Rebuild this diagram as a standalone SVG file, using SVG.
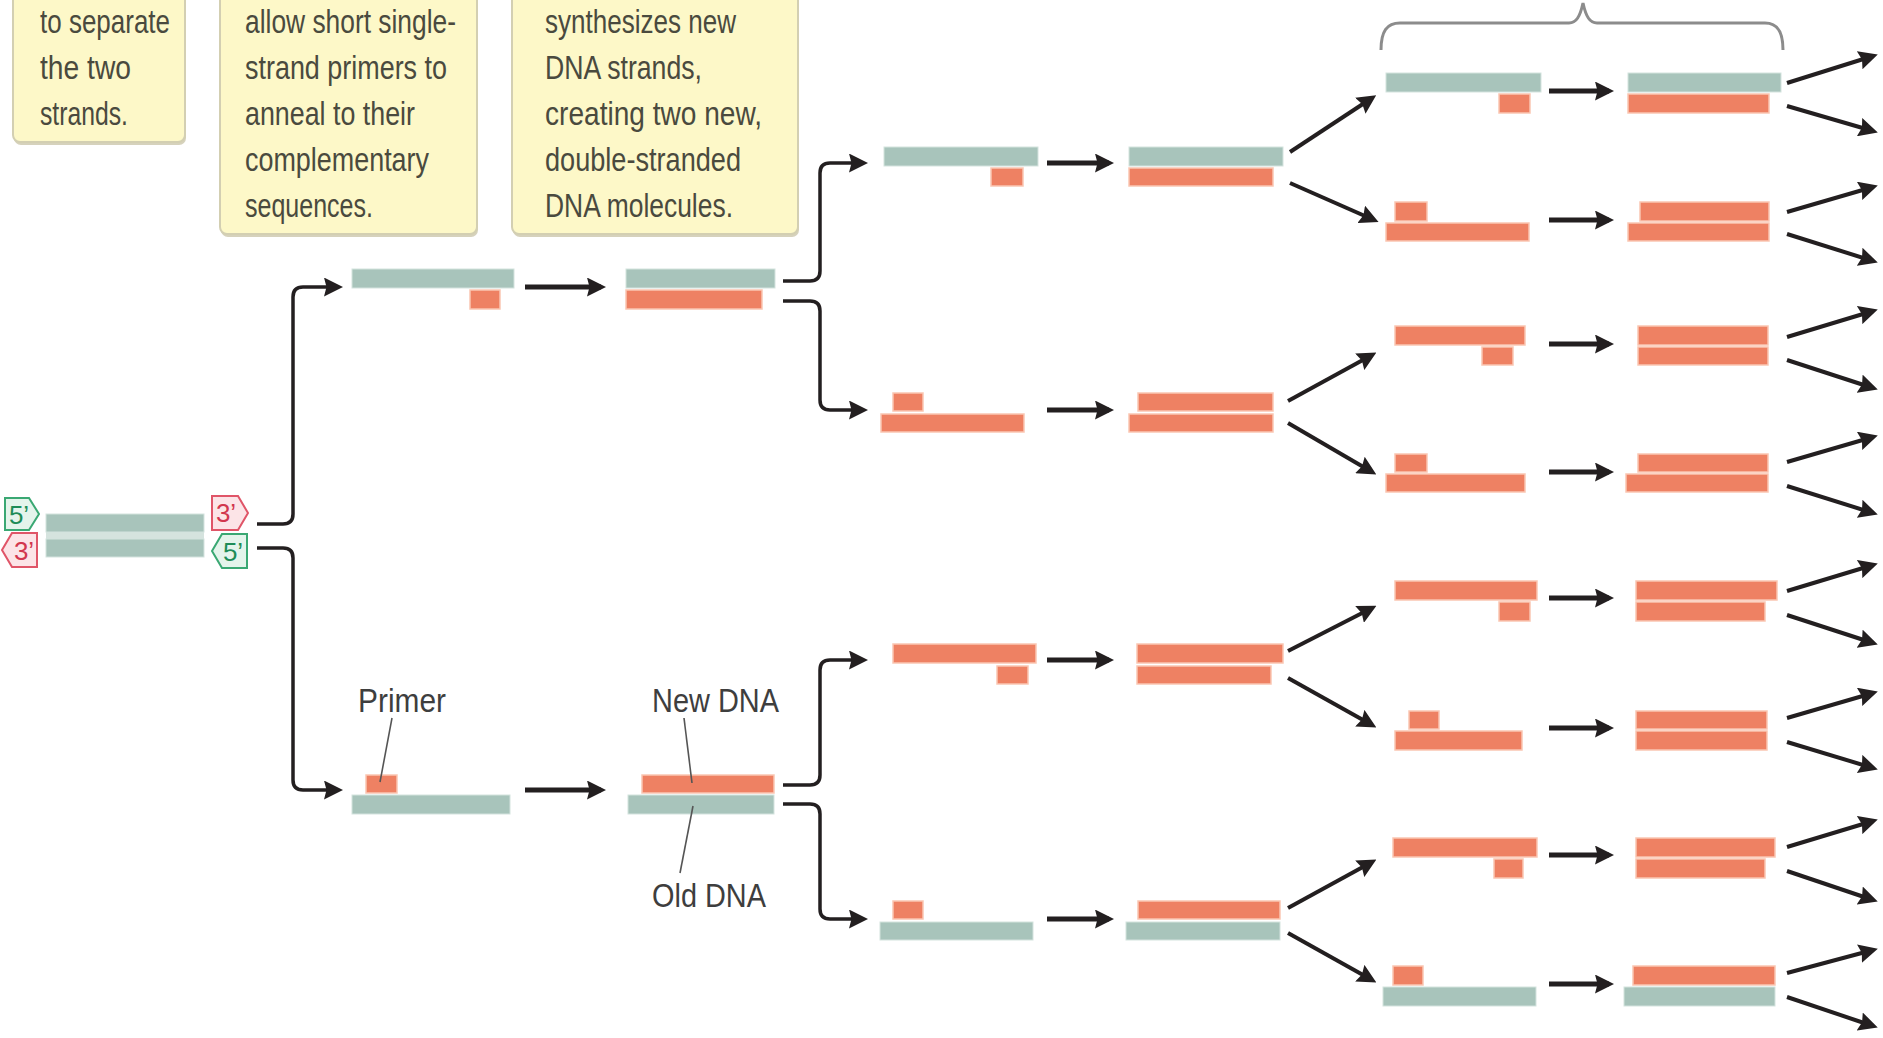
<svg xmlns="http://www.w3.org/2000/svg" width="1883" height="1038" viewBox="0 0 1883 1038">
<defs>
<marker id="ah" viewBox="0 0 19 19" markerWidth="19" markerHeight="19" refX="14" refY="9.5" markerUnits="userSpaceOnUse" orient="auto">
<path d="M0,0 L19,9.5 L0,19 L2.5,9.5 Z" fill="#231F20"/>
</marker>
</defs>
<style>
.box{fill:#FDF8C8;stroke:#D3CFB2;stroke-width:2}
.shd{fill:#D6D2BC}
.bt{font-family:"Liberation Sans Narrow","Liberation Sans",sans-serif;font-size:34px;fill:#4A4A3E}
.lbl{font-family:"Liberation Sans Narrow","Liberation Sans",sans-serif;font-size:34px;fill:#3E3E3E}
.t{fill:#A8C4BB;stroke:#D4E3DE;stroke-width:1}
.s{fill:#EE8163;stroke:#FAC6B2;stroke-width:1.5}
.ar{stroke:#231F20;stroke-width:5;fill:none;marker-end:url(#ah)}
.fk{stroke:#231F20;stroke-width:3.5;fill:none;marker-end:url(#ah)}
.dg{stroke:#231F20;stroke-width:4;fill:none;marker-end:url(#ah)}
.ld{stroke:#555555;stroke-width:1.6;fill:none}
.brace{stroke:#8C8C8C;stroke-width:3;fill:none}
.pg{fill:#E4F4EB;stroke:#3AA873;stroke-width:2}
.pr{fill:#FCE4E7;stroke:#E05568;stroke-width:2}
.tg{font-family:"Liberation Sans Narrow","Liberation Sans",sans-serif;font-size:26px;fill:#1E8C57;text-anchor:middle}
.tr{font-family:"Liberation Sans Narrow","Liberation Sans",sans-serif;font-size:26px;fill:#D2374E;text-anchor:middle}
</style>
<rect width="1883" height="1038" fill="#FFFFFF"/>

<!-- Text boxes -->
<g id="box-denature">
<rect class="shd" x="14" y="-17" width="172" height="162" rx="7"/>
<rect class="box" x="13" y="-20" width="172" height="162" rx="7"/>
<text class="bt" x="40" y="33" textLength="130" lengthAdjust="spacingAndGlyphs">to separate</text>
<text class="bt" x="40" y="79" textLength="91" lengthAdjust="spacingAndGlyphs">the two</text>
<text class="bt" x="40" y="125" textLength="88" lengthAdjust="spacingAndGlyphs">strands.</text>
</g>
<g id="box-anneal">
<rect class="shd" x="221" y="-17" width="257" height="254" rx="7"/>
<rect class="box" x="220" y="-20" width="257" height="254" rx="7"/>
<text class="bt" x="245" y="33" textLength="211" lengthAdjust="spacingAndGlyphs">allow short single-</text>
<text class="bt" x="245" y="79" textLength="202" lengthAdjust="spacingAndGlyphs">strand primers to</text>
<text class="bt" x="245" y="125" textLength="170" lengthAdjust="spacingAndGlyphs">anneal to their</text>
<text class="bt" x="245" y="171" textLength="184" lengthAdjust="spacingAndGlyphs">complementary</text>
<text class="bt" x="245" y="217" textLength="128" lengthAdjust="spacingAndGlyphs">sequences.</text>
</g>
<g id="box-extend">
<rect class="shd" x="513" y="-17" width="286" height="254" rx="7"/>
<rect class="box" x="512" y="-20" width="286" height="254" rx="7"/>
<text class="bt" x="545" y="33" textLength="191" lengthAdjust="spacingAndGlyphs">synthesizes new</text>
<text class="bt" x="545" y="79" textLength="157" lengthAdjust="spacingAndGlyphs">DNA strands,</text>
<text class="bt" x="545" y="125" textLength="217" lengthAdjust="spacingAndGlyphs">creating two new,</text>
<text class="bt" x="545" y="171" textLength="196" lengthAdjust="spacingAndGlyphs">double-stranded</text>
<text class="bt" x="545" y="217" textLength="188" lengthAdjust="spacingAndGlyphs">DNA molecules.</text>
</g>

<!-- Brace -->
<g id="brace">
<path class="brace" d="M1381,50 C1381,31 1387,23 1400,23 L1569,23 C1576,23 1580,17 1583,3 C1586,17 1590,23 1597,23 L1765,23 C1777,23 1783,31 1783,50"/>
</g>

<!-- Original DNA -->
<g id="dna-original">
<rect x="46" y="530" width="158" height="11" fill="#D5E3DE"/>
<rect class="t" x="46" y="514" width="158" height="18"/>
<rect class="t" x="46" y="539" width="158" height="18"/>
<polygon class="pg" points="5,498 29,498 39,514 29,530 5,530"/>
<text class="tg" x="19" y="524">5’</text>
<polygon class="pr" points="2,550 12,533 37,533 37,567 12,567"/>
<text class="tr" x="24" y="560">3’</text>
<polygon class="pr" points="212,496 238,496 248,513 238,530 212,530"/>
<text class="tr" x="226" y="522">3’</text>
<polygon class="pg" points="212,551 222,534 247,534 247,568 222,568"/>
<text class="tg" x="233" y="561">5’</text>
</g>

<!-- Generation 1 -->
<g id="g1a-single">
<rect class="t" x="352" y="269" width="162" height="19"/>
<rect class="s" x="470" y="290" width="30" height="19"/>
</g>
<g id="g1a-double">
<rect class="t" x="626" y="269" width="149" height="19"/>
<rect class="s" x="626" y="290" width="136" height="19"/>
</g>
<g id="g1b-single">
<rect class="s" x="366" y="775" width="31" height="18"/>
<rect class="t" x="352" y="795" width="158" height="19"/>
</g>
<g id="g1b-double">
<rect class="s" x="642" y="775" width="132" height="18"/>
<rect class="t" x="628" y="795" width="146" height="19"/>
</g>

<!-- Labels -->
<g id="label-primer">
<text class="lbl" x="358" y="712" textLength="88" lengthAdjust="spacingAndGlyphs">Primer</text>
<line class="ld" x1="392" y1="718" x2="380" y2="782"/>
</g>
<g id="label-new">
<text class="lbl" x="652" y="712" textLength="127" lengthAdjust="spacingAndGlyphs">New DNA</text>
<line class="ld" x1="684" y1="718" x2="692" y2="783"/>
</g>
<g id="label-old">
<text class="lbl" x="652" y="907" textLength="114" lengthAdjust="spacingAndGlyphs">Old DNA</text>
<line class="ld" x1="693" y1="806" x2="680" y2="873"/>
</g>

<!-- Generation 2 -->
<g id="g2r1-single">
<rect class="t" x="884" y="147" width="154" height="19"/>
<rect class="s" x="991" y="168" width="32" height="18"/>
</g>
<g id="g2r1-double">
<rect class="t" x="1129" y="147" width="154" height="19"/>
<rect class="s" x="1129" y="168" width="144" height="18"/>
</g>
<g id="g2r2-single">
<rect class="s" x="893" y="393" width="30" height="18"/>
<rect class="s" x="881" y="414" width="143" height="18"/>
</g>
<g id="g2r2-double">
<rect class="s" x="1138" y="393" width="135" height="18"/>
<rect class="s" x="1129" y="414" width="144" height="18"/>
</g>
<g id="g2r3-single">
<rect class="s" x="893" y="644" width="143" height="19"/>
<rect class="s" x="997" y="666" width="31" height="18"/>
</g>
<g id="g2r3-double">
<rect class="s" x="1137" y="644" width="146" height="19"/>
<rect class="s" x="1137" y="666" width="134" height="18"/>
</g>
<g id="g2r4-single">
<rect class="s" x="893" y="901" width="30" height="18"/>
<rect class="t" x="880" y="922" width="153" height="18"/>
</g>
<g id="g2r4-double">
<rect class="s" x="1138" y="901" width="142" height="18"/>
<rect class="t" x="1126" y="922" width="154" height="18"/>
</g>

<!-- Generation 3 -->
<g id="g3r1-single">
<rect class="t" x="1386" y="73" width="155" height="19"/>
<rect class="s" x="1499" y="94" width="31" height="19"/>
</g>
<g id="g3r1-double">
<rect class="t" x="1628" y="73" width="153" height="19"/>
<rect class="s" x="1628" y="94" width="141" height="19"/>
</g>
<g id="g3r2-single">
<rect class="s" x="1395" y="202" width="32" height="19"/>
<rect class="s" x="1386" y="223" width="143" height="18"/>
</g>
<g id="g3r2-double">
<rect class="s" x="1640" y="202" width="129" height="19"/>
<rect class="s" x="1628" y="223" width="141" height="18"/>
</g>
<g id="g3r3-single">
<rect class="s" x="1395" y="326" width="130" height="19"/>
<rect class="s" x="1482" y="347" width="31" height="18"/>
</g>
<g id="g3r3-double">
<rect class="s" x="1638" y="326" width="130" height="19"/>
<rect class="s" x="1638" y="347" width="130" height="18"/>
</g>
<g id="g3r4-single">
<rect class="s" x="1395" y="454" width="32" height="18"/>
<rect class="s" x="1386" y="474" width="139" height="18"/>
</g>
<g id="g3r4-double">
<rect class="s" x="1638" y="454" width="130" height="18"/>
<rect class="s" x="1626" y="474" width="142" height="18"/>
</g>
<g id="g3r5-single">
<rect class="s" x="1395" y="581" width="142" height="19"/>
<rect class="s" x="1499" y="602" width="31" height="19"/>
</g>
<g id="g3r5-double">
<rect class="s" x="1636" y="581" width="141" height="19"/>
<rect class="s" x="1636" y="602" width="129" height="19"/>
</g>
<g id="g3r6-single">
<rect class="s" x="1409" y="711" width="30" height="18"/>
<rect class="s" x="1395" y="731" width="127" height="19"/>
</g>
<g id="g3r6-double">
<rect class="s" x="1636" y="711" width="131" height="18"/>
<rect class="s" x="1636" y="731" width="131" height="19"/>
</g>
<g id="g3r7-single">
<rect class="s" x="1393" y="838" width="144" height="19"/>
<rect class="s" x="1494" y="859" width="29" height="19"/>
</g>
<g id="g3r7-double">
<rect class="s" x="1636" y="838" width="139" height="19"/>
<rect class="s" x="1636" y="859" width="129" height="19"/>
</g>
<g id="g3r8-single">
<rect class="s" x="1393" y="966" width="30" height="19"/>
<rect class="t" x="1383" y="987" width="153" height="19"/>
</g>
<g id="g3r8-double">
<rect class="s" x="1633" y="966" width="142" height="19"/>
<rect class="t" x="1624" y="987" width="151" height="19"/>
</g>

<!-- Connectors -->
<g id="connectors">
<path class="fk" d="M257,524 H283 Q293,524 293,514 V297 Q293,287 303,287 H338"/>
<path class="fk" d="M257,548 H283 Q293,548 293,558 V780 Q293,790 303,790 H338"/>
<path class="ar" d="M525,287 H601"/>
<path class="ar" d="M525,790 H601"/>
<path class="fk" d="M783,281 H810 Q820,281 820,271 V173 Q820,163 830,163 H863"/>
<path class="fk" d="M783,301 H810 Q820,301 820,311 V400 Q820,410 830,410 H863"/>
<path class="fk" d="M783,785 H810 Q820,785 820,775 V670 Q820,660 830,660 H863"/>
<path class="fk" d="M783,804 H810 Q820,804 820,814 V909 Q820,919 830,919 H863"/>
<path class="ar" d="M1047,163 H1109"/>
<path class="ar" d="M1047,410 H1109"/>
<path class="ar" d="M1047,660 H1109"/>
<path class="ar" d="M1047,919 H1109"/>
<path class="dg" d="M1290,152 L1372,98"/>
<path class="dg" d="M1290,183 L1374,220"/>
<path class="dg" d="M1288,401 L1372,355"/>
<path class="dg" d="M1288,423 L1372,472"/>
<path class="dg" d="M1288,651 L1372,608"/>
<path class="dg" d="M1288,678 L1372,725"/>
<path class="dg" d="M1288,908 L1372,862"/>
<path class="dg" d="M1288,933 L1372,980"/>
<path class="ar" d="M1549,91 H1609"/>
<path class="ar" d="M1549,220 H1609"/>
<path class="ar" d="M1549,344 H1609"/>
<path class="ar" d="M1549,472 H1609"/>
<path class="ar" d="M1549,598 H1609"/>
<path class="ar" d="M1549,728 H1609"/>
<path class="ar" d="M1549,855 H1609"/>
<path class="ar" d="M1549,984 H1609"/>
<path class="dg" d="M1787,83 L1873,56"/>
<path class="dg" d="M1787,106 L1873,131"/>
<path class="dg" d="M1787,212 L1873,187"/>
<path class="dg" d="M1787,234 L1873,261"/>
<path class="dg" d="M1787,337 L1873,311"/>
<path class="dg" d="M1787,360 L1873,388"/>
<path class="dg" d="M1787,462 L1873,437"/>
<path class="dg" d="M1787,486 L1873,513"/>
<path class="dg" d="M1787,591 L1873,565"/>
<path class="dg" d="M1787,615 L1873,643"/>
<path class="dg" d="M1787,718 L1873,693"/>
<path class="dg" d="M1787,742 L1873,768"/>
<path class="dg" d="M1787,847 L1873,821"/>
<path class="dg" d="M1787,871 L1873,900"/>
<path class="dg" d="M1787,973 L1873,950"/>
<path class="dg" d="M1787,997 L1873,1026"/>
</g>
</svg>
